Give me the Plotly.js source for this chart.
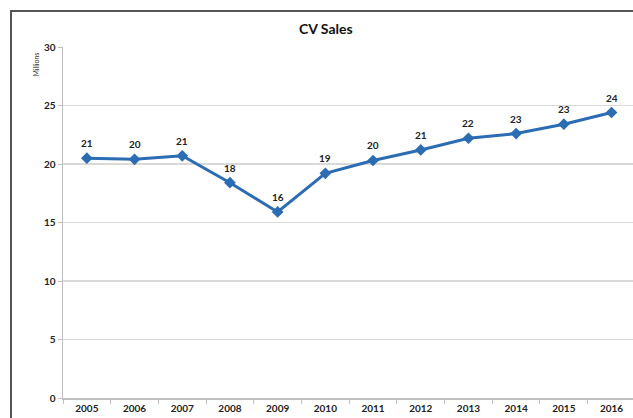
<!DOCTYPE html>
<html>
<head>
<meta charset="utf-8">
<script src="https://cdn.plot.ly/plotly-3.0.1.min.js"></script>
<style>
  html, body { margin: 0; padding: 0; background: #ffffff; overflow: hidden; }
  #wrap { position: relative; width: 633px; height: 418px; overflow: hidden; }
  #chart { width: 633px; height: 418px; }
  /* outer chart frame: left and top edges only, running off the page */
  #frame-left { position: absolute; left: 10px; top: 10px; width: 2px; height: 410px; background: #555555; }
  #frame-top { position: absolute; left: 10px; top: 10px; width: 640px; height: 2px; background: #555555; }
</style>
</head>
<body>
<div id="wrap">
  <div id="chart"></div>
  <div id="frame-left"></div>
  <div id="frame-top"></div>
</div>
<script>
// Commercial vehicle sales, millions of units
const years = ['2005', '2006', '2007', '2008', '2009', '2010', '2011', '2012', '2013', '2014', '2015', '2016'];
const sales = [20.5, 20.4, 20.7, 18.4, 15.9, 19.2, 20.3, 21.2, 22.2, 22.6, 23.4, 24.4];
const yTicks = [0, 5, 10, 15, 20, 25, 30];

const lineColor = '#2b6cb3';
const fontFamily = 'Lato, "Open Sans", sans-serif';
const boldFont = { family: fontFamily, size: 10, color: '#222222', weight: 700 };

const trace = {
  type: 'scatter',
  mode: 'lines+markers',
  x: years,
  y: sales,
  line: { color: lineColor, width: 3 },
  marker: { symbol: 'diamond', size: 9, color: lineColor },
  cliponaxis: false,
  hoverinfo: 'skip'
};

// value labels sit a little above each point, rounded to whole millions;
// x is the category index so the numeric-looking year is not read as a position
const valueLabels = years.map((yr, i) => ({
  x: i,
  y: sales[i],
  xref: 'x', yref: 'y',
  text: '<b>' + Math.round(sales[i]) + '</b>',
  showarrow: false,
  yshift: 15,
  font: boldFont
}));

const layout = {
  width: 633,
  height: 418,
  margin: { l: 63, r: 0, t: 47, b: 20 },
  paper_bgcolor: '#ffffff',
  plot_bgcolor: '#ffffff',
  showlegend: false,
  title: {
    text: '<b>CV Sales</b>',
    font: { family: fontFamily, size: 14, color: '#111111' },
    xref: 'paper', x: 0.461, xanchor: 'center',
    yref: 'container', y: 0.931, yanchor: 'middle'
  },
  xaxis: {
    type: 'category',
    range: [-0.5, 11.45],
    showgrid: false,
    showline: true,
    linecolor: '#bfbfbf',
    linewidth: 1.5,
    ticks: 'outside',
    tickson: 'boundaries',
    ticklen: 4,
    tickcolor: '#bfbfbf',
    tickfont: boldFont,
    fixedrange: true
  },
  yaxis: {
    range: [0, 30],
    tickvals: yTicks,
    ticktext: yTicks.map(String),
    showgrid: true,
    gridcolor: '#d9d9d9',
    gridwidth: 1.5,
    zeroline: false,
    showline: true,
    linecolor: '#bfbfbf',
    linewidth: 1.5,
    ticks: 'outside',
    ticklen: 4,
    tickcolor: '#bfbfbf',
    tickfont: boldFont,
    fixedrange: true
  },
  annotations: valueLabels.concat([{
    text: 'Millions',
    xref: 'paper', yref: 'paper',
    x: -0.049, y: 0.95,
    xanchor: 'center', yanchor: 'middle',
    textangle: -90,
    showarrow: false,
    font: { family: fontFamily, size: 7, color: '#333333' }
  }])
};

Plotly.newPlot('chart', [trace], layout, { displayModeBar: false, staticPlot: true });
</script>
</body>
</html>
